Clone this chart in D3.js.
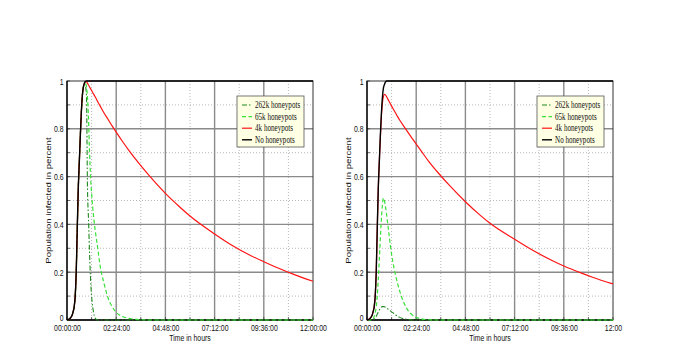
<!DOCTYPE html>
<html><head><meta charset="utf-8">
<script src="https://cdn.jsdelivr.net/npm/d3@7"></script>
<style>body{margin:0;background:#fff}</style></head>
<body>
<svg id="c" width="698" height="359"></svg>
<script>
// ---------- data ----------
const hours = [0,0.1,0.2,0.25,0.3,0.35,0.4,0.45,0.5,0.55,
  0.6,0.65,0.7,0.75,0.8,0.85,0.9,0.95,1.0,1.05,
  1.1,1.15,1.2,1.3,1.4,1.5,1.6,1.8,2.0,2.2,
  2.4,2.7,3.0,3.5,4.0,4.8,5.5,6.0,7.2,8.0,
  9.0,9.6,10.5,11.0,12.0];

const seriesNames = ["262k honeypots","65k honeypots","4k honeypots","No honeypots"];

// left panel
const leftNone = [0,0.003,0.012,0.02,0.035,0.055,0.1,0.2,0.38,0.55,
  0.66,0.77,0.87,0.94,0.975,0.992,0.998,1,1,1,
  1,1,1,1,1,1,1,1,1,1,
  1,1,1,1,1,1,1,1,1,1,
  1,1,1,1,1];
const left4k = [0,0.003,0.012,0.02,0.035,0.055,0.1,0.2,0.38,0.55,
  0.66,0.77,0.87,0.94,0.975,0.99,0.997,0.998,0.99,0.983,
  0.975,0.968,0.96,0.945,0.93,0.913,0.898,0.867,0.84,0.812,
  0.786,0.748,0.712,0.656,0.605,0.53,0.473,0.435,0.36,0.315,
  0.268,0.244,0.21,0.193,0.162];
const left65k = [0,0.003,0.012,0.02,0.035,0.055,0.1,0.2,0.38,0.55,
  0.66,0.77,0.87,0.94,0.975,0.988,0.99,0.975,0.93,0.84,
  0.7,0.6,0.53,0.43,0.36,0.3,0.235,0.155,0.093,0.056,
  0.032,0.015,0.007,0.002,0,0,0,0,0,0,
  0,0,0,0,0];
const left262k = [0,0.003,0.012,0.02,0.035,0.055,0.1,0.2,0.38,0.55,
  0.66,0.77,0.87,0.94,0.975,0.985,0.98,0.93,0.55,0.42,
  0.28,0.17,0.1,0.03,0.005,0,0,0,0,0,
  0,0,0,0,0,0,0,0,0,0,
  0,0,0,0,0];

// right panel
const rightNone = [0,0.003,0.012,0.02,0.035,0.055,0.1,0.2,0.38,0.55,
  0.66,0.77,0.86,0.93,0.97,0.985,0.995,1,1,1,
  1,1,1,1,1,1,1,1,1,1,
  1,1,1,1,1,1,1,1,1,1,
  1,1,1,1,1];
const right4k = [0,0.003,0.012,0.02,0.035,0.055,0.1,0.2,0.38,0.55,
  0.66,0.76,0.85,0.905,0.935,0.944,0.942,0.935,0.927,0.919,
  0.911,0.903,0.895,0.88,0.865,0.85,0.836,0.81,0.785,0.76,
  0.736,0.7,0.665,0.613,0.565,0.495,0.44,0.405,0.338,0.296,
  0.25,0.226,0.195,0.179,0.151];
const right65k = [0,0,0.001,0.002,0.005,0.015,0.03,0.055,0.1,0.17,
  0.25,0.34,0.42,0.48,0.51,0.5,0.475,0.445,0.41,0.375,
  0.34,0.305,0.275,0.225,0.185,0.15,0.12,0.072,0.04,0.022,
  0.011,0.004,0.001,0,0,0,0,0,0,0,
  0,0,0,0,0];
const right262k = [0,0,0,0,0.001,0.003,0.008,0.015,0.024,0.033,
  0.042,0.049,0.054,0.056,0.056,0.055,0.053,0.05,0.047,0.044,
  0.041,0.037,0.034,0.028,0.021,0.016,0.011,0.005,0.002,0,
  0,0,0,0,0,0,0,0,0,0,
  0,0,0,0,0];

const xTickHours = [0,2.4,4.8,7.2,9.6,12];
const xMinorHours = [1.2,3.6,6.0,8.4,10.8];
const xTickLabelsLeft = ["00:00:00","02:24:00","04:48:00","07:12:00","09:36:00","12:00:00"];
const xTickLabelsRight = ["00:00:00","02:24:00","04:48:00","07:12:00","09:36:00","12:00"];
const yTicks = [0,0.2,0.4,0.6,0.8,1];
const yMinor = [0.1,0.3,0.5,0.7,0.9];
const yTickLabels = ["0","0.2","0.4","0.6","0.8","1"];
const xTitle = "Time in hours";
const yTitle = "Population infected in percent";

// ---------- drawing ----------
const sx = 0.75; // horizontal squeeze of the original figure
const svg = d3.select("#c");
svg.append("rect").attr("width",698).attr("height",359).attr("fill","#fff");
const yTop = 81, yBot = 320;

const styles = [
  {color:"#1f8a1f", dash:"5,2,1.5,2", w:1.1},
  {color:"#38e038", dash:"4,2.5", w:1.2},
  {color:"#ff1414", dash:null, w:1.2},
  {color:"#000000", dash:null, w:1.4}
];

const panels = [
  {x0:67, x1:313, labels:xTickLabelsLeft, series:[left262k,left65k,left4k,leftNone]},
  {x0:367, x1:613, labels:xTickLabelsRight, series:[right262k,right65k,right4k,rightNone]}
];

panels.forEach(p => {
  const x = d3.scaleLinear().domain([0,12]).range([p.x0,p.x1]);
  const y = d3.scaleLinear().domain([0,1]).range([yBot,yTop]);
  const g = svg.append("g");

  // minor grid (dotted)
  g.selectAll(".mx").data(xMinorHours).join("line")
    .attr("x1",d=>x(d)).attr("x2",d=>x(d)).attr("y1",yTop).attr("y2",yBot)
    .attr("stroke","#b8b8b8").attr("stroke-width",1).attr("stroke-dasharray","1,2");
  g.selectAll(".my").data(yMinor).join("line")
    .attr("y1",d=>y(d)).attr("y2",d=>y(d)).attr("x1",p.x0).attr("x2",p.x1)
    .attr("stroke","#b8b8b8").attr("stroke-width",1).attr("stroke-dasharray","1,2");
  // major grid
  g.selectAll(".Mx").data(xTickHours.slice(1,-1)).join("line")
    .attr("x1",d=>x(d)).attr("x2",d=>x(d)).attr("y1",yTop).attr("y2",yBot)
    .attr("stroke","#8a8a8a").attr("stroke-width",1.4);
  g.selectAll(".My").data(yTicks.slice(1,-1)).join("line")
    .attr("y1",d=>y(d)).attr("y2",d=>y(d)).attr("x1",p.x0).attr("x2",p.x1)
    .attr("stroke","#8a8a8a").attr("stroke-width",1.4);

  // inward minor ticks
  g.selectAll(".ty").data(yMinor.concat(yTicks)).join("line")
    .attr("x1",p.x0).attr("x2",p.x0+3).attr("y1",d=>y(d)).attr("y2",d=>y(d))
    .attr("stroke","#444").attr("stroke-width",0.8);
  g.selectAll(".tx").data(xMinorHours.concat(xTickHours)).join("line")
    .attr("x1",d=>x(d)).attr("x2",d=>x(d)).attr("y1",yBot).attr("y2",yBot-3)
    .attr("stroke","#444").attr("stroke-width",0.8);

  // frame
  g.append("rect").attr("x",p.x0).attr("y",yTop).attr("width",p.x1-p.x0).attr("height",yBot-yTop)
    .attr("fill","none").attr("stroke","#333").attr("stroke-width",1);
  g.append("line").attr("x1",p.x0).attr("x2",p.x0).attr("y1",yTop).attr("y2",yBot).attr("stroke","#000").attr("stroke-width",1.3);
  g.append("line").attr("x1",p.x0).attr("x2",p.x1).attr("y1",yBot).attr("y2",yBot).attr("stroke","#000").attr("stroke-width",1.3);

  // series
  const line = d3.line().x((d,i)=>x(hours[i])).y(d=>y(d)).curve(d3.curveMonotoneX);
  p.series.forEach((s,k) => {
    g.append("path").attr("d",line(s)).attr("fill","none")
      .attr("stroke",styles[k].color).attr("stroke-width",styles[k].w)
      .attr("stroke-dasharray",styles[k].dash);
  });

  // axes labels
  const ax = d3.axisBottom(x).tickValues(xTickHours).tickFormat((d,i)=>p.labels[i]).tickSize(0);
  const gx = g.append("g").attr("transform",`translate(0,${yBot})`).call(ax);
  gx.select(".domain").remove();
  gx.selectAll("text").attr("y",11).attr("dy",0).attr("transform",`scale(${sx},1)`)
    .attr("font-family","'Liberation Sans', Arial, sans-serif").attr("font-size",9.2).attr("fill","#111");

  const ay = d3.axisLeft(y).tickValues(yTicks).tickFormat((d,i)=>yTickLabels[i]).tickSize(0);
  const gy = g.append("g").attr("transform",`translate(${p.x0},0)`).call(ay);
  gy.select(".domain").remove();
  gy.selectAll("text").attr("x",-3.5/sx).attr("dy",(d)=> d===0 ? "0.05em" : "0.34em").attr("transform",`scale(${sx},1)`)
    .attr("font-family","'Liberation Sans', Arial, sans-serif").attr("font-size",9.2).attr("fill","#111");

  g.append("text").attr("transform",`translate(${(p.x0+p.x1)/2},341) scale(${sx},1)`)
    .attr("text-anchor","middle").attr("font-family","'Liberation Sans', Arial, sans-serif")
    .attr("font-size",9.2).attr("fill","#111").text(xTitle);
  g.append("text").attr("transform",`translate(${p.x0-16},${(yTop+yBot)/2}) scale(${sx},1) rotate(-90)`)
    .attr("text-anchor","middle").attr("font-family","'Liberation Sans', Arial, sans-serif")
    .attr("font-size",9.6).attr("fill","#111").text(yTitle);

  // legend
  const lx0 = p.x1-76, lx1 = p.x1-9, ly0 = 96, ly1 = 147;
  const lg = g.append("g");
  lg.append("rect").attr("x",lx0).attr("y",ly0).attr("width",lx1-lx0).attr("height",ly1-ly0)
    .attr("fill","#ffffe4").attr("stroke","#555").attr("stroke-width",0.8);
  seriesNames.forEach((name,k) => {
    const cy = 105 + k*11.6;
    lg.append("line").attr("x1",p.x1-71).attr("x2",p.x1-61).attr("y1",cy).attr("y2",cy)
      .attr("stroke",styles[k].color).attr("stroke-width",styles[k].w)
      .attr("stroke-dasharray",styles[k].dash);
    lg.append("text").attr("transform",`translate(${p.x1-58},${cy+3}) scale(${sx},1)`)
      .attr("font-family","'Liberation Serif', 'Times New Roman', serif").attr("font-size",9.5)
      .attr("fill","#111").text(name);
  });
});
</script>
</body></html>
